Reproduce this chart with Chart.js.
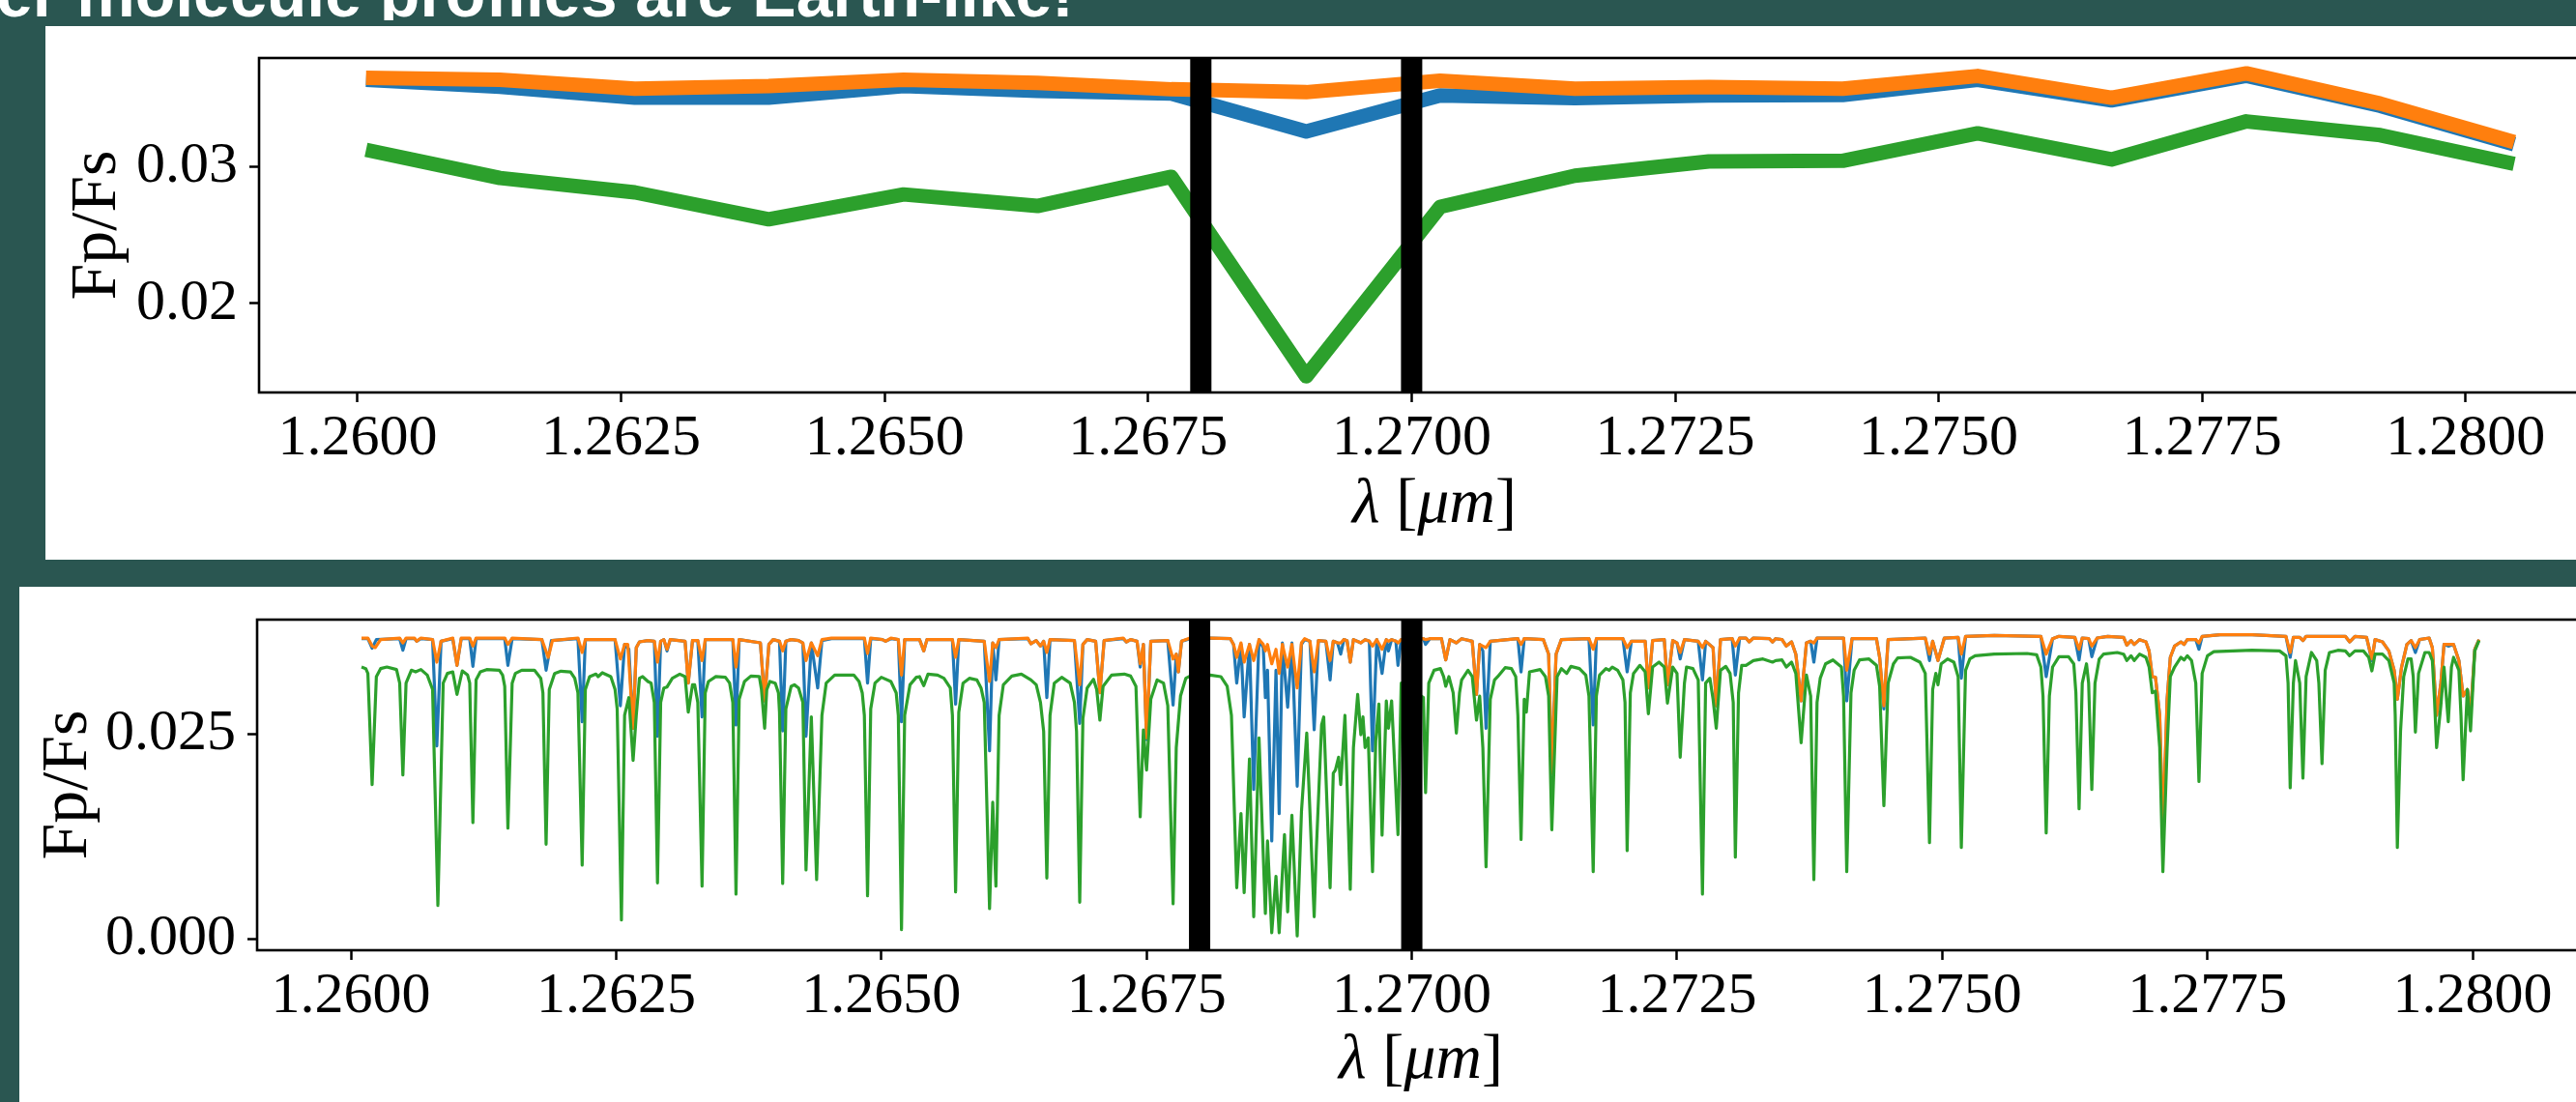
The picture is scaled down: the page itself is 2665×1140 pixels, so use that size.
<!DOCTYPE html>
<html><head><meta charset="utf-8">
<script src="https://cdn.jsdelivr.net/npm/chart.js@4.4.0/dist/chart.umd.min.js"></script>
<style>
html,body{margin:0;padding:0;width:2665px;height:1140px;overflow:hidden;background:#2a5651;position:relative;}
#titleClip{position:absolute;left:0;top:0;width:2665px;height:21px;overflow:hidden;}
#title{position:absolute;left:-4px;top:-41px;font:bold 68px "Liberation Sans",Arial,sans-serif;color:#fff;white-space:nowrap;line-height:1;}
.panel{position:absolute;background:#fff;}
#p1{left:47px;top:27px;width:3000px;height:552px;}
#p2{left:20px;top:607px;width:3000px;height:600px;}
canvas{position:absolute;left:0;}
#c1{top:27px;}
#c2{top:607px;}
</style></head><body>
<div id="titleClip"><div id="title">er molecule profiles are Earth-like!</div></div>
<div class="panel" id="p1"></div>
<div class="panel" id="p2"></div>
<canvas id="c1" width="2700" height="552"></canvas>
<canvas id="c2" width="2674" height="533"></canvas>
<script>
// ---------- data: binned spectrum (top panel) ----------
const wlBinned = [1.26008,1.26135,1.26263,1.26390,1.26518,1.26645,1.26772,1.26900,1.27027,1.27155,1.27282,1.27409,1.27537,1.27664,1.27792,1.27919,1.28046];
const fpBlueBinned   = [0.03630,0.03580,0.03500,0.03500,0.03584,0.03549,0.03530,0.03254,0.03516,0.03497,0.03516,0.03520,0.03630,0.03480,0.03660,0.03440,0.03160];
const fpOrangeBinned = [0.03644,0.03630,0.03565,0.03585,0.03630,0.03607,0.03561,0.03540,0.03624,0.03565,0.03578,0.03566,0.03658,0.03500,0.03677,0.03457,0.03176];
const fpGreenBinned  = [0.03120,0.02915,0.02810,0.02614,0.02795,0.02711,0.02923,0.01470,0.02704,0.02931,0.03035,0.03040,0.03240,0.03050,0.03327,0.03227,0.03018];

// ---------- data: high resolution spectra (bottom panel), [lambda, Fp/Fs] ----------
const hiresBlue = [[1.26010,0.03657],[1.26016,0.03657],[1.26020,0.03540],[1.26024,0.03646],[1.26046,0.03657],[1.26049,0.03516],[1.26052,0.03657],[1.26060,0.03657],[1.26062,0.03626],[1.26066,0.03657],[1.26077,0.03646],[1.26081,0.02351],[1.26085,0.03626],[1.26096,0.03657],[1.26100,0.03332],[1.26104,0.03657],[1.26112,0.03657],[1.26115,0.03320],[1.26118,0.03657],[1.26145,0.03657],[1.26148,0.03332],[1.26152,0.03657],[1.26180,0.03646],[1.26184,0.03273],[1.26189,0.03634],[1.26214,0.03657],[1.26218,0.02645],[1.26221,0.03646],[1.26249,0.03646],[1.26254,0.02841],[1.26258,0.03587],[1.26262,0.03528],[1.26266,0.02567],[1.26269,0.03548],[1.26272,0.03618],[1.26280,0.03634],[1.26286,0.03626],[1.26289,0.02469],[1.26292,0.03626],[1.26295,0.03646],[1.26298,0.03508],[1.26301,0.03646],[1.26315,0.03626],[1.26318,0.03116],[1.26322,0.03634],[1.26327,0.03634],[1.26331,0.02704],[1.26334,0.03646],[1.26360,0.03646],[1.26363,0.02606],[1.26366,0.03646],[1.26386,0.03606],[1.26390,0.02900],[1.26394,0.03587],[1.26398,0.03646],[1.26404,0.03626],[1.26407,0.02535],[1.26410,0.03626],[1.26415,0.03646],[1.26422,0.03634],[1.26426,0.03606],[1.26429,0.02469],[1.26434,0.03606],[1.26440,0.03057],[1.26444,0.03634],[1.26453,0.03657],[1.26484,0.03657],[1.26487,0.03116],[1.26490,0.03657],[1.26501,0.03646],[1.26504,0.03626],[1.26509,0.03657],[1.26516,0.03646],[1.26519,0.02645],[1.26522,0.03646],[1.26536,0.03646],[1.26540,0.03508],[1.26543,0.03646],[1.26567,0.03646],[1.26570,0.02861],[1.26573,0.03646],[1.26597,0.03626],[1.26602,0.02292],[1.26605,0.03606],[1.26608,0.03155],[1.26611,0.03646],[1.26638,0.03657],[1.26641,0.03595],[1.26646,0.03634],[1.26650,0.03567],[1.26653,0.03626],[1.26656,0.02939],[1.26659,0.03646],[1.26682,0.03634],[1.26687,0.02626],[1.26690,0.03587],[1.26694,0.03646],[1.26702,0.03626],[1.26706,0.02998],[1.26710,0.03634],[1.26728,0.03657],[1.26731,0.03618],[1.26735,0.03646],[1.26741,0.03626],[1.26744,0.03312],[1.26747,0.03587],[1.26750,0.02429],[1.26754,0.03626],[1.26770,0.03634],[1.26775,0.02849],[1.26778,0.03469],[1.26780,0.03253],[1.26783,0.03626],[1.26791,0.03657],[1.26810,0.03665],[1.26829,0.03657],[1.26832,0.03587],[1.26835,0.03116],[1.26839,0.03587],[1.26842,0.02704],[1.26847,0.03587],[1.26851,0.01821],[1.26856,0.03646],[1.26860,0.03548],[1.26862,0.02939],[1.26864,0.03273],[1.26868,0.01194],[1.26872,0.03273],[1.26875,0.01527],[1.26878,0.03606],[1.26883,0.02822],[1.26887,0.03606],[1.26892,0.01861],[1.26896,0.03587],[1.26899,0.03646],[1.26904,0.03626],[1.26908,0.02547],[1.26912,0.03634],[1.26919,0.03626],[1.26923,0.03155],[1.26926,0.03626],[1.26930,0.03606],[1.26933,0.03469],[1.26936,0.03646],[1.26939,0.03634],[1.26942,0.03371],[1.26945,0.03646],[1.26952,0.03606],[1.26956,0.03646],[1.26960,0.03626],[1.26963,0.02292],[1.26967,0.03646],[1.26972,0.03234],[1.26976,0.03646],[1.26978,0.03508],[1.26981,0.03646],[1.26985,0.03626],[1.26987,0.03332],[1.26990,0.03646],[1.27011,0.03657],[1.27013,0.03587],[1.27017,0.03657],[1.27028,0.03657],[1.27032,0.03398],[1.27036,0.03646],[1.27042,0.03606],[1.27047,0.03657],[1.27057,0.03626],[1.27061,0.02979],[1.27064,0.03587],[1.27067,0.03508],[1.27070,0.02567],[1.27074,0.03626],[1.27100,0.03657],[1.27103,0.03253],[1.27106,0.03657],[1.27124,0.03646],[1.27129,0.03469],[1.27132,0.02018],[1.27136,0.03469],[1.27141,0.03646],[1.27167,0.03657],[1.27171,0.02606],[1.27174,0.03657],[1.27199,0.03657],[1.27203,0.03253],[1.27207,0.03626],[1.27220,0.03626],[1.27223,0.03057],[1.27227,0.03634],[1.27238,0.03646],[1.27241,0.03096],[1.27246,0.03634],[1.27250,0.03606],[1.27253,0.03410],[1.27257,0.03646],[1.27270,0.03626],[1.27274,0.03155],[1.27277,0.03626],[1.27284,0.03548],[1.27287,0.02841],[1.27291,0.03646],[1.27302,0.03657],[1.27305,0.03214],[1.27309,0.03665],[1.27315,0.03665],[1.27318,0.03618],[1.27322,0.03665],[1.27337,0.03657],[1.27340,0.03618],[1.27343,0.03657],[1.27349,0.03646],[1.27353,0.03567],[1.27358,0.03618],[1.27362,0.03469],[1.27367,0.02900],[1.27372,0.03606],[1.27376,0.03626],[1.27379,0.03371],[1.27382,0.03665],[1.27407,0.03665],[1.27410,0.02900],[1.27415,0.03657],[1.27438,0.03657],[1.27441,0.03430],[1.27445,0.02802],[1.27449,0.03646],[1.27484,0.03665],[1.27488,0.03391],[1.27491,0.03626],[1.27496,0.03391],[1.27502,0.03665],[1.27515,0.03673],[1.27518,0.03175],[1.27522,0.03685],[1.27549,0.03697],[1.27593,0.03685],[1.27598,0.03195],[1.27604,0.03657],[1.27610,0.03685],[1.27625,0.03673],[1.27629,0.03398],[1.27632,0.03665],[1.27638,0.03657],[1.27641,0.03438],[1.27646,0.03665],[1.27656,0.03685],[1.27671,0.03673],[1.27674,0.03579],[1.27678,0.03634],[1.27681,0.03587],[1.27686,0.03646],[1.27692,0.03618],[1.27695,0.03508],[1.27698,0.03195],[1.27701,0.03187],[1.27705,0.02724],[1.27708,0.01194],[1.27712,0.02920],[1.27715,0.03430],[1.27719,0.03567],[1.27725,0.03618],[1.27728,0.03587],[1.27731,0.03646],[1.27739,0.03646],[1.27742,0.03528],[1.27745,0.03685],[1.27762,0.03705],[1.27792,0.03705],[1.27824,0.03685],[1.27828,0.03430],[1.27831,0.03673],[1.27837,0.03673],[1.27840,0.03634],[1.27843,0.03685],[1.27880,0.03685],[1.27884,0.03618],[1.27889,0.03685],[1.27900,0.03673],[1.27905,0.03391],[1.27908,0.03646],[1.27915,0.03618],[1.27921,0.03508],[1.27926,0.03273],[1.27929,0.02920],[1.27933,0.03312],[1.27938,0.03587],[1.27942,0.03634],[1.27946,0.03489],[1.27950,0.03646],[1.27959,0.03665],[1.27962,0.03548],[1.27966,0.02724],[1.27970,0.03116],[1.27973,0.03587],[1.27977,0.03567],[1.27982,0.03587],[1.27987,0.03391],[1.27991,0.02959],[1.27995,0.03038],[1.27998,0.02724],[1.28002,0.03528],[1.28006,0.03646]];

const hiresOrange = [[1.26010,0.03665],[1.26016,0.03665],[1.26020,0.03567],[1.26023,0.03548],[1.26028,0.03646],[1.26046,0.03665],[1.26049,0.03606],[1.26052,0.03665],[1.26060,0.03665],[1.26062,0.03626],[1.26066,0.03665],[1.26077,0.03646],[1.26081,0.03371],[1.26085,0.03626],[1.26096,0.03665],[1.26100,0.03332],[1.26104,0.03665],[1.26112,0.03665],[1.26115,0.03567],[1.26118,0.03665],[1.26145,0.03665],[1.26148,0.03587],[1.26152,0.03665],[1.26180,0.03646],[1.26186,0.03430],[1.26190,0.03634],[1.26214,0.03665],[1.26218,0.03489],[1.26221,0.03646],[1.26249,0.03646],[1.26254,0.03410],[1.26258,0.03587],[1.26261,0.03587],[1.26266,0.02567],[1.26269,0.03548],[1.26272,0.03618],[1.26280,0.03634],[1.26286,0.03626],[1.26289,0.03371],[1.26292,0.03626],[1.26295,0.03646],[1.26298,0.03528],[1.26301,0.03646],[1.26315,0.03626],[1.26318,0.03116],[1.26322,0.03634],[1.26327,0.03634],[1.26331,0.03391],[1.26334,0.03646],[1.26360,0.03646],[1.26363,0.03312],[1.26366,0.03646],[1.26386,0.03606],[1.26390,0.02900],[1.26394,0.03587],[1.26398,0.03646],[1.26404,0.03626],[1.26407,0.03508],[1.26410,0.03626],[1.26415,0.03646],[1.26422,0.03634],[1.26426,0.03606],[1.26429,0.03391],[1.26434,0.03606],[1.26440,0.03449],[1.26444,0.03646],[1.26453,0.03665],[1.26484,0.03665],[1.26487,0.03477],[1.26490,0.03665],[1.26501,0.03646],[1.26504,0.03626],[1.26509,0.03665],[1.26516,0.03646],[1.26519,0.03214],[1.26522,0.03646],[1.26536,0.03646],[1.26540,0.03508],[1.26543,0.03646],[1.26567,0.03646],[1.26570,0.03430],[1.26573,0.03646],[1.26597,0.03626],[1.26602,0.03136],[1.26605,0.03606],[1.26608,0.03548],[1.26611,0.03646],[1.26638,0.03665],[1.26641,0.03595],[1.26646,0.03634],[1.26650,0.03567],[1.26653,0.03626],[1.26656,0.03489],[1.26659,0.03646],[1.26682,0.03634],[1.26687,0.03096],[1.26690,0.03587],[1.26694,0.03646],[1.26702,0.03626],[1.26706,0.02998],[1.26710,0.03634],[1.26728,0.03665],[1.26731,0.03618],[1.26735,0.03646],[1.26741,0.03626],[1.26744,0.03351],[1.26747,0.03587],[1.26750,0.02449],[1.26754,0.03626],[1.26770,0.03634],[1.26775,0.03410],[1.26778,0.03469],[1.26780,0.03253],[1.26783,0.03626],[1.26791,0.03665],[1.26810,0.03665],[1.26829,0.03657],[1.26832,0.03587],[1.26835,0.03430],[1.26839,0.03606],[1.26842,0.03371],[1.26847,0.03587],[1.26851,0.03391],[1.26856,0.03646],[1.26860,0.03587],[1.26862,0.03508],[1.26864,0.03587],[1.26868,0.03351],[1.26872,0.03528],[1.26875,0.03234],[1.26878,0.03587],[1.26883,0.03312],[1.26887,0.03587],[1.26892,0.03057],[1.26896,0.03606],[1.26899,0.03657],[1.26904,0.03626],[1.26908,0.03253],[1.26912,0.03634],[1.26919,0.03626],[1.26923,0.03391],[1.26926,0.03626],[1.26930,0.03606],[1.26933,0.03606],[1.26936,0.03646],[1.26939,0.03634],[1.26942,0.03371],[1.26945,0.03646],[1.26952,0.03606],[1.26956,0.03646],[1.26960,0.03626],[1.26963,0.03567],[1.26967,0.03646],[1.26972,0.03528],[1.26976,0.03646],[1.26978,0.03626],[1.26981,0.03646],[1.26985,0.03626],[1.26987,0.03606],[1.26990,0.03646],[1.27011,0.03657],[1.27013,0.03646],[1.27017,0.03657],[1.27028,0.03657],[1.27032,0.03398],[1.27036,0.03646],[1.27042,0.03606],[1.27047,0.03657],[1.27057,0.03626],[1.27061,0.02979],[1.27064,0.03587],[1.27067,0.03567],[1.27070,0.03548],[1.27074,0.03626],[1.27100,0.03657],[1.27103,0.03587],[1.27106,0.03657],[1.27124,0.03646],[1.27129,0.03469],[1.27132,0.02018],[1.27136,0.03469],[1.27141,0.03646],[1.27167,0.03657],[1.27171,0.03528],[1.27174,0.03657],[1.27199,0.03657],[1.27203,0.03548],[1.27207,0.03626],[1.27220,0.03626],[1.27223,0.03057],[1.27227,0.03634],[1.27238,0.03646],[1.27241,0.03096],[1.27246,0.03634],[1.27250,0.03606],[1.27253,0.03489],[1.27257,0.03646],[1.27270,0.03626],[1.27274,0.03548],[1.27277,0.03626],[1.27284,0.03548],[1.27287,0.02841],[1.27291,0.03646],[1.27302,0.03657],[1.27305,0.03567],[1.27309,0.03665],[1.27315,0.03665],[1.27318,0.03618],[1.27322,0.03665],[1.27337,0.03657],[1.27340,0.03618],[1.27343,0.03657],[1.27349,0.03646],[1.27353,0.03567],[1.27358,0.03618],[1.27362,0.03469],[1.27367,0.02900],[1.27372,0.03606],[1.27376,0.03626],[1.27379,0.03606],[1.27382,0.03665],[1.27407,0.03665],[1.27410,0.03273],[1.27415,0.03657],[1.27438,0.03657],[1.27441,0.03430],[1.27445,0.02841],[1.27449,0.03646],[1.27484,0.03665],[1.27488,0.03469],[1.27491,0.03626],[1.27496,0.03391],[1.27502,0.03665],[1.27515,0.03673],[1.27518,0.03469],[1.27522,0.03685],[1.27549,0.03697],[1.27593,0.03685],[1.27598,0.03469],[1.27604,0.03657],[1.27610,0.03685],[1.27625,0.03673],[1.27629,0.03528],[1.27632,0.03665],[1.27638,0.03657],[1.27641,0.03567],[1.27646,0.03665],[1.27656,0.03685],[1.27671,0.03673],[1.27674,0.03579],[1.27678,0.03634],[1.27681,0.03587],[1.27686,0.03646],[1.27692,0.03618],[1.27695,0.03508],[1.27698,0.03195],[1.27701,0.03187],[1.27705,0.02724],[1.27708,0.01351],[1.27712,0.02920],[1.27715,0.03430],[1.27719,0.03567],[1.27725,0.03618],[1.27728,0.03587],[1.27731,0.03646],[1.27739,0.03646],[1.27742,0.03606],[1.27745,0.03685],[1.27762,0.03705],[1.27792,0.03705],[1.27824,0.03685],[1.27828,0.03489],[1.27831,0.03673],[1.27837,0.03673],[1.27840,0.03634],[1.27843,0.03685],[1.27880,0.03685],[1.27884,0.03618],[1.27889,0.03685],[1.27900,0.03673],[1.27905,0.03410],[1.27908,0.03646],[1.27915,0.03618],[1.27921,0.03508],[1.27926,0.03273],[1.27929,0.02920],[1.27933,0.03312],[1.27938,0.03587],[1.27942,0.03634],[1.27946,0.03548],[1.27950,0.03646],[1.27959,0.03665],[1.27962,0.03548],[1.27966,0.02724],[1.27970,0.03116],[1.27973,0.03587],[1.27977,0.03587],[1.27982,0.03587],[1.27987,0.03391],[1.27991,0.02959],[1.27995,0.03038],[1.27998,0.02724],[1.28002,0.03528],[1.28006,0.03646]];

const hiresGreen = [[1.26010,0.03312],[1.26014,0.03293],[1.26016,0.03234],[1.26020,0.01880],[1.26024,0.03195],[1.26028,0.03293],[1.26034,0.03312],[1.26043,0.03281],[1.26046,0.03116],[1.26049,0.01998],[1.26052,0.03116],[1.26057,0.03273],[1.26061,0.03253],[1.26066,0.03281],[1.26072,0.03214],[1.26077,0.03038],[1.26082,0.00409],[1.26087,0.03116],[1.26091,0.03234],[1.26096,0.03253],[1.26100,0.02979],[1.26105,0.03265],[1.26110,0.03214],[1.26112,0.03116],[1.26115,0.01417],[1.26118,0.03155],[1.26122,0.03253],[1.26128,0.03281],[1.26140,0.03273],[1.26143,0.03214],[1.26145,0.03077],[1.26148,0.01351],[1.26152,0.03116],[1.26155,0.03234],[1.26161,0.03273],[1.26173,0.03273],[1.26179,0.03175],[1.26181,0.02998],[1.26184,0.01155],[1.26187,0.03038],[1.26192,0.03234],[1.26198,0.03261],[1.26207,0.03253],[1.26211,0.03175],[1.26214,0.02998],[1.26218,0.00900],[1.26221,0.03038],[1.26225,0.03195],[1.26231,0.03226],[1.26233,0.03195],[1.26237,0.03242],[1.26245,0.03195],[1.26249,0.03038],[1.26251,0.02802],[1.26255,0.00233],[1.26258,0.02724],[1.26262,0.02939],[1.26266,0.02174],[1.26269,0.02724],[1.26272,0.03175],[1.26275,0.03195],[1.26280,0.03136],[1.26283,0.03116],[1.26286,0.02881],[1.26289,0.00684],[1.26292,0.02881],[1.26295,0.03057],[1.26298,0.03069],[1.26303,0.03175],[1.26310,0.03226],[1.26315,0.03195],[1.26318,0.02763],[1.26322,0.03096],[1.26324,0.03096],[1.26327,0.02881],[1.26331,0.00645],[1.26334,0.02998],[1.26337,0.03136],[1.26344,0.03195],[1.26353,0.03187],[1.26357,0.03116],[1.26360,0.02881],[1.26363,0.00546],[1.26366,0.02920],[1.26371,0.03136],[1.26377,0.03202],[1.26385,0.03195],[1.26387,0.03038],[1.26390,0.02567],[1.26392,0.03038],[1.26395,0.03136],[1.26400,0.03116],[1.26403,0.02998],[1.26404,0.02763],[1.26407,0.00676],[1.26410,0.02802],[1.26415,0.03077],[1.26418,0.03096],[1.26422,0.03057],[1.26426,0.02881],[1.26429,0.00841],[1.26434,0.02704],[1.26439,0.00723],[1.26444,0.02724],[1.26448,0.03116],[1.26456,0.03214],[1.26474,0.03214],[1.26479,0.03136],[1.26482,0.02998],[1.26484,0.02724],[1.26487,0.00527],[1.26490,0.02802],[1.26494,0.03116],[1.26500,0.03187],[1.26509,0.03136],[1.26514,0.02998],[1.26516,0.02724],[1.26519,0.00115],[1.26522,0.02724],[1.26527,0.03096],[1.26533,0.03187],[1.26536,0.03195],[1.26540,0.03085],[1.26544,0.03226],[1.26553,0.03214],[1.26559,0.03175],[1.26565,0.03057],[1.26567,0.02724],[1.26570,0.00574],[1.26573,0.02763],[1.26577,0.03116],[1.26583,0.03175],[1.26590,0.03155],[1.26594,0.03057],[1.26597,0.02881],[1.26602,0.00370],[1.26605,0.01665],[1.26608,0.00645],[1.26611,0.02724],[1.26615,0.03096],[1.26623,0.03202],[1.26632,0.03226],[1.26641,0.03155],[1.26646,0.03096],[1.26650,0.02881],[1.26653,0.02528],[1.26656,0.00743],[1.26659,0.02724],[1.26663,0.03116],[1.26670,0.03187],[1.26678,0.03116],[1.26682,0.02881],[1.26684,0.02528],[1.26687,0.00448],[1.26690,0.02684],[1.26694,0.03057],[1.26700,0.03163],[1.26703,0.03038],[1.26706,0.02665],[1.26709,0.03077],[1.26717,0.03214],[1.26729,0.03226],[1.26735,0.03202],[1.26740,0.03077],[1.26744,0.01488],[1.26747,0.02547],[1.26750,0.02057],[1.26754,0.02920],[1.26760,0.03155],[1.26766,0.03116],[1.26770,0.02841],[1.26775,0.00429],[1.26778,0.02331],[1.26782,0.02959],[1.26787,0.03175],[1.26791,0.03202],[1.26810,0.03214],[1.26820,0.03195],[1.26826,0.03077],[1.26830,0.02724],[1.26835,0.00625],[1.26839,0.01527],[1.26842,0.00566],[1.26847,0.02194],[1.26851,0.00272],[1.26856,0.02449],[1.26862,0.00311],[1.26864,0.01194],[1.26868,0.00076],[1.26872,0.00762],[1.26875,0.00076],[1.26880,0.01272],[1.26883,0.00331],[1.26887,0.01508],[1.26892,0.00037],[1.26896,0.01547],[1.26901,0.02508],[1.26908,0.00272],[1.26910,0.01076],[1.26915,0.02606],[1.26917,0.02704],[1.26923,0.00625],[1.26926,0.02018],[1.26928,0.02057],[1.26931,0.02214],[1.26933,0.01880],[1.26937,0.02724],[1.26942,0.00605],[1.26945,0.02331],[1.26949,0.02979],[1.26952,0.02488],[1.26954,0.02704],[1.26956,0.02331],[1.26959,0.02449],[1.26963,0.00821],[1.26966,0.02410],[1.26969,0.02861],[1.26972,0.01264],[1.26976,0.02900],[1.26978,0.02567],[1.26981,0.02900],[1.26987,0.01272],[1.26990,0.03116],[1.27011,0.02939],[1.27013,0.01782],[1.27016,0.03116],[1.27021,0.03273],[1.27027,0.03293],[1.27030,0.03195],[1.27032,0.03077],[1.27035,0.03195],[1.27039,0.02998],[1.27042,0.02508],[1.27045,0.02998],[1.27047,0.03155],[1.27053,0.03273],[1.27057,0.03195],[1.27061,0.02665],[1.27064,0.02959],[1.27067,0.02331],[1.27070,0.00880],[1.27074,0.02920],[1.27078,0.03155],[1.27081,0.03195],[1.27088,0.03304],[1.27094,0.03293],[1.27098,0.03195],[1.27100,0.02724],[1.27103,0.01213],[1.27106,0.02920],[1.27108,0.02763],[1.27111,0.03253],[1.27121,0.03281],[1.27126,0.03195],[1.27129,0.02959],[1.27132,0.01331],[1.27137,0.03195],[1.27141,0.03293],[1.27146,0.03234],[1.27150,0.03320],[1.27158,0.03293],[1.27164,0.03214],[1.27167,0.02959],[1.27171,0.00821],[1.27174,0.02959],[1.27177,0.03214],[1.27183,0.03293],[1.27186,0.03273],[1.27189,0.03312],[1.27194,0.03273],[1.27199,0.03155],[1.27201,0.02881],[1.27203,0.01076],[1.27206,0.02998],[1.27209,0.03234],[1.27215,0.03332],[1.27220,0.03253],[1.27223,0.02743],[1.27227,0.03312],[1.27233,0.03371],[1.27238,0.03312],[1.27241,0.02873],[1.27246,0.03312],[1.27250,0.03234],[1.27253,0.02214],[1.27257,0.03116],[1.27259,0.03312],[1.27265,0.03293],[1.27270,0.03155],[1.27274,0.00546],[1.27277,0.03116],[1.27281,0.03175],[1.27284,0.02920],[1.27287,0.02567],[1.27291,0.03273],[1.27296,0.03320],[1.27300,0.03234],[1.27303,0.02881],[1.27305,0.00998],[1.27308,0.02998],[1.27311,0.03332],[1.27315,0.03332],[1.27322,0.03391],[1.27331,0.03410],[1.27340,0.03371],[1.27343,0.03391],[1.27349,0.03398],[1.27353,0.03312],[1.27358,0.03371],[1.27362,0.03234],[1.27367,0.02390],[1.27372,0.03214],[1.27376,0.02959],[1.27379,0.00723],[1.27382,0.02881],[1.27385,0.03175],[1.27390,0.03351],[1.27397,0.03398],[1.27405,0.03312],[1.27407,0.02959],[1.27410,0.00821],[1.27414,0.02998],[1.27417,0.03273],[1.27422,0.03398],[1.27431,0.03410],[1.27438,0.03332],[1.27441,0.03077],[1.27445,0.01625],[1.27449,0.03116],[1.27454,0.03351],[1.27458,0.03422],[1.27470,0.03430],[1.27479,0.03371],[1.27484,0.03234],[1.27488,0.01174],[1.27491,0.03038],[1.27494,0.03234],[1.27496,0.03096],[1.27499,0.03351],[1.27505,0.03410],[1.27511,0.03371],[1.27515,0.03195],[1.27518,0.01115],[1.27522,0.03273],[1.27526,0.03410],[1.27531,0.03449],[1.27549,0.03469],[1.27580,0.03477],[1.27589,0.03461],[1.27593,0.03312],[1.27595,0.02959],[1.27598,0.01292],[1.27601,0.02959],[1.27604,0.03312],[1.27610,0.03438],[1.27619,0.03438],[1.27624,0.03351],[1.27626,0.02998],[1.27629,0.01586],[1.27632,0.03116],[1.27636,0.03351],[1.27638,0.03116],[1.27641,0.01821],[1.27644,0.03116],[1.27648,0.03410],[1.27652,0.03469],[1.27665,0.03489],[1.27671,0.03469],[1.27674,0.03391],[1.27678,0.03449],[1.27681,0.03391],[1.27686,0.03469],[1.27692,0.03430],[1.27695,0.03312],[1.27698,0.02998],[1.27701,0.03018],[1.27705,0.02331],[1.27708,0.00821],[1.27712,0.02331],[1.27715,0.03195],[1.27719,0.03312],[1.27725,0.03430],[1.27728,0.03398],[1.27731,0.03449],[1.27735,0.03391],[1.27739,0.03116],[1.27742,0.01919],[1.27745,0.03234],[1.27750,0.03449],[1.27756,0.03500],[1.27792,0.03516],[1.27818,0.03508],[1.27824,0.03449],[1.27826,0.03116],[1.27828,0.01841],[1.27831,0.03116],[1.27833,0.03391],[1.27837,0.03116],[1.27840,0.01959],[1.27843,0.03195],[1.27848,0.03489],[1.27853,0.03391],[1.27855,0.03116],[1.27858,0.02135],[1.27861,0.03273],[1.27865,0.03489],[1.27873,0.03516],[1.27880,0.03508],[1.27884,0.03449],[1.27889,0.03508],[1.27897,0.03508],[1.27902,0.03430],[1.27905,0.03265],[1.27908,0.03469],[1.27915,0.03469],[1.27921,0.03391],[1.27926,0.03116],[1.27927,0.02724],[1.27929,0.01115],[1.27932,0.02528],[1.27935,0.03195],[1.27939,0.03410],[1.27942,0.03410],[1.27944,0.03195],[1.27946,0.02520],[1.27949,0.03234],[1.27955,0.03489],[1.27959,0.03489],[1.27962,0.03391],[1.27964,0.02920],[1.27966,0.02331],[1.27970,0.02841],[1.27973,0.03312],[1.27977,0.02645],[1.27980,0.03312],[1.27982,0.03430],[1.27987,0.03273],[1.27989,0.02724],[1.27991,0.01939],[1.27995,0.03038],[1.27998,0.02535],[1.28002,0.03508],[1.28006,0.03634]];

// ---------- band markers and ticks ----------
const bandLambda = [1.2680, 1.2700];
const xTickValues = [1.2600, 1.2625, 1.2650, 1.2675, 1.2700, 1.2725, 1.2750, 1.2775, 1.2800];
const yTicksTop = [0.02, 0.03];
const yTicksBottom = [0.000, 0.025];

// ---------- styling ----------
const C_BLUE = '#1f77b4', C_ORANGE = '#ff7f0e', C_GREEN = '#2ca02c';
const SERIF = '"Liberation Serif", "Times New Roman", serif';
Chart.defaults.font.family = SERIF;
Chart.defaults.color = '#000';

const frameAndTitle = {
  id: 'frameAndTitle',
  afterDraw(chart, args, o) {
    const ctx = chart.ctx, a = chart.chartArea;
    ctx.save();
    ctx.strokeStyle = '#000';
    ctx.lineWidth = o.frameWidth;
    ctx.strokeRect(a.left, a.top, a.right - a.left, a.bottom - a.top);
    ctx.fillStyle = '#000';
    ctx.textBaseline = 'middle';
    let total = 0;
    const parts = o.parts.map(p => {
      ctx.font = (p.i ? 'italic ' : '') + o.size + 'px ' + SERIF;
      const w = ctx.measureText(p.t).width; total += w; return {t: p.t, i: p.i, w};
    });
    let x = (a.left + a.right) / 2 - total / 2;
    parts.forEach(p => {
      ctx.font = (p.i ? 'italic ' : '') + o.size + 'px ' + SERIF;
      ctx.fillText(p.t, x, o.y); x += p.w;
    });
    ctx.restore();
  }
};
const titleParts = [{t: 'λ', i: true}, {t: ' [', i: false}, {t: 'μm', i: true}, {t: ']', i: false}];

function lineDs(data, color, width, order) {
  return {data, borderColor: color, backgroundColor: color, borderWidth: width, pointRadius: 0,
          tension: 0, fill: false, order, borderJoinStyle: 'round', borderCapStyle: 'butt'};
}
function bandDs(lam, yMin, yMax) {
  return {data: [[lam, yMin], [lam, yMax]], borderColor: '#000', borderWidth: 22, pointRadius: 0,
          fill: false, order: 0, borderCapStyle: 'butt'};
}
function zeroPad(s) { s.paddingTop = 0; s.paddingBottom = 0; s.paddingLeft = 0; s.paddingRight = 0; }
function makeChart(id, cfg) {
  const tickFont = {family: SERIF, size: 60};
  return new Chart(document.getElementById(id), {
    type: 'line',
    data: {datasets: cfg.datasets},
    options: {
      responsive: false, animation: false, events: [],
      layout: {autoPadding: false, padding: {top: cfg.padTop, left: 0, right: 0, bottom: 0}},
      plugins: {legend: {display: false}, tooltip: {enabled: false},
                frameAndTitle: {frameWidth: 2.6, parts: titleParts, size: 66, y: cfg.titleY}},
      scales: {
        x: {type: 'linear', min: cfg.xMin, max: cfg.xMax,
            afterBuildTicks: s => { s.ticks = xTickValues.map(v => ({value: v})); },
            afterFit: s => { s.height = cfg.xAxisH; zeroPad(s); },
            ticks: {font: tickFont, color: '#000', padding: 2, maxRotation: 0, minRotation: 0, autoSkip: false,
                    callback: v => Number(v).toFixed(4)},
            grid: {display: true, drawOnChartArea: false, drawTicks: true, tickLength: 10, tickWidth: 2.5, tickColor: '#000'},
            border: {display: false}},
        y: {type: 'linear', min: cfg.yMin, max: cfg.yMax,
            afterBuildTicks: s => { s.ticks = cfg.yTicks.map(v => ({value: v})); },
            afterFit: s => { s.width = cfg.yAxisW; zeroPad(s); },
            ticks: {font: tickFont, color: '#000', padding: 12, callback: v => Number(v).toFixed(cfg.yDec)},
            grid: {display: true, drawOnChartArea: false, drawTicks: true, tickLength: 10, tickWidth: 2.5, tickColor: '#000'},
            border: {display: false},
            title: {display: true, text: 'Fp/Fs', color: '#000', font: {family: SERIF, size: 68},
                    padding: {top: cfg.yTitlePad, bottom: 0}}}
      }
    },
    plugins: [frameAndTitle]
  });
}

const topY = [0.01352, 0.03789];
const topPts = arr => wlBinned.map((w, i) => [w, arr[i]]);
makeChart('c1', {
  padTop: 33, xAxisH: 173, yAxisW: 268, yTitlePad: 60, titleY: 496,
  xMin: 1.259065, xMax: 1.281368, yMin: topY[0], yMax: topY[1], yTicks: yTicksTop, yDec: 2,
  datasets: [
    lineDs(topPts(fpBlueBinned), C_BLUE, 15, 4),
    lineDs(topPts(fpOrangeBinned), C_ORANGE, 15, 3),
    lineDs(topPts(fpGreenBinned), C_GREEN, 15, 2),
    bandDs(bandLambda[0], topY[0], topY[1]),
    bandDs(bandLambda[1], topY[0], topY[1])
  ]
});

const botY = [-0.001365, 0.03889];
makeChart('c2', {
  padTop: 34, xAxisH: 157, yAxisW: 266, yTitlePad: 30, titleY: 491,
  xMin: 1.259116, xMax: 1.281056, yMin: botY[0], yMax: botY[1], yTicks: yTicksBottom, yDec: 3,
  datasets: [
    lineDs(hiresBlue, C_BLUE, 3.2, 4),
    lineDs(hiresOrange, C_ORANGE, 3.2, 3),
    lineDs(hiresGreen, C_GREEN, 3.2, 2),
    bandDs(bandLambda[0], botY[0], botY[1]),
    bandDs(bandLambda[1], botY[0], botY[1])
  ]
});
</script>
</body></html>
